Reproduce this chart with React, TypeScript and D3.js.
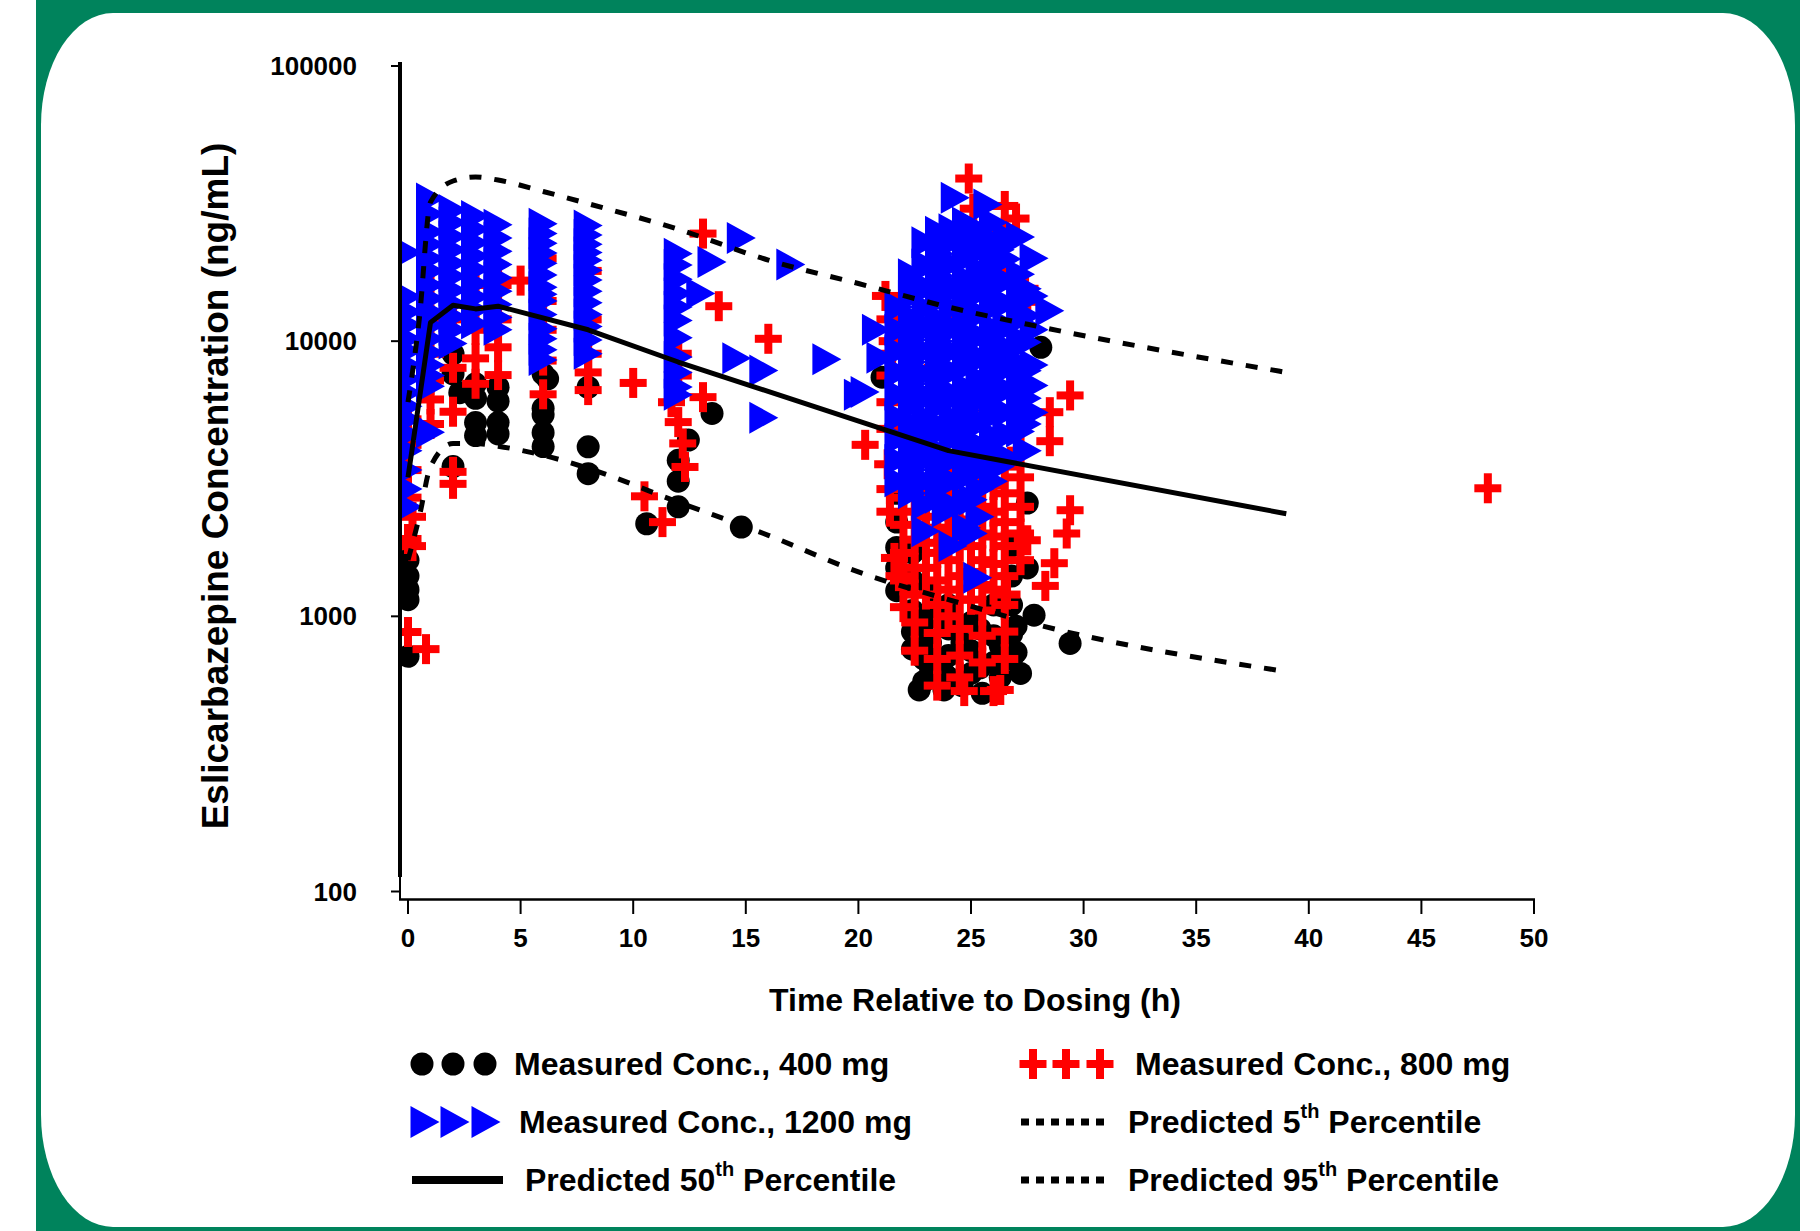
import React from "react";
import * as d3 from "d3";

// axis ticks
const xTicks = [0, 5, 10, 15, 20, 25, 30, 35, 40, 45, 50];
const yTicks = [100, 1000, 10000, 100000];

// measured concentrations, grouped by sampling time: [time (h), [conc ng/mL ...]]
const conc400: [number, number[]][] = [
  [0, [1600, 1400, 1250, 1150, 716]],
  [2, [9000, 7600, 3500]],
  [2.3, [6500]],
  [3, [7000, 6200, 5060, 4540]],
  [4, [6800, 6050, 5060, 4600]],
  [6, [7600, 5700, 5400, 4650, 4140]],
  [6.2, [7300]],
  [8, [6800, 4130, 3300]],
  [10.6, [2170]],
  [12, [3690, 3100, 2500]],
  [12.45, [4370]],
  [13.5, [5460]],
  [14.8, [2110]],
  [21.05, [7400]],
  [21.7, [2800, 2200, 1780, 1500, 1240]],
  [22.4, [1700, 1350, 1050, 880, 760]],
  [22.7, [540]],
  [22.9, [950, 700, 580]],
  [23.2, [1250, 1000, 800, 650]],
  [23.8, [620, 540]],
  [24, [1100, 900, 720, 600]],
  [24.6, [800, 560]],
  [25, [950, 750, 620]],
  [25.4, [900, 650]],
  [25.5, [525]],
  [26, [1100, 850, 680]],
  [26.3, [780, 600]],
  [26.8, [1800, 1400, 1100, 860, 700]],
  [27, [920, 740]],
  [27.2, [620]],
  [27.5, [2580, 1500]],
  [27.8, [1010]],
  [28.1, [9500]],
  [29.4, [797]],
];

const conc800: [number, number[]][] = [
  [0, [5200, 4200, 3400, 2700, 1910, 877]],
  [0.2, [2300, 1800]],
  [0.8, [760]],
  [1, [16000, 12000, 9000, 7200, 6140, 5000]],
  [2, [12000, 8000, 5540, 3350, 3030]],
  [3, [16000, 11000, 8660, 7000]],
  [4, [16000, 12000, 9500, 7530]],
  [5, [16600]],
  [6, [20000, 14000, 11000, 8500, 6410]],
  [8, [18000, 12000, 9000, 7700, 6640]],
  [10, [7050]],
  [10.5, [2730]],
  [11.3, [2200]],
  [11.7, [6000]],
  [12, [9000, 7500, 5080]],
  [12.2, [4250]],
  [12.3, [3490]],
  [13.1, [24600, 6260]],
  [13.8, [13400]],
  [16, [10200]],
  [20.3, [4200]],
  [21.2, [14600]],
  [21.3, [3570]],
  [21.4, [12000, 7500, 6000, 4800, 2900, 2400]],
  [21.5, [10000, 9000]],
  [21.6, [1630]],
  [21.8, [1400]],
  [22, [2700, 2150, 1700, 1350, 1080]],
  [22.5, [3000, 2400, 1900, 1500, 1200, 950, 750]],
  [23, [2900, 2300, 1850, 1500, 1200]],
  [23.5, [8000, 2600, 2100, 1700, 1350, 1100, 870, 700, 560]],
  [24, [3100, 2500, 2000, 1600, 1250, 1000]],
  [24.5, [12000, 2800, 2200, 1800, 1400, 1150, 900, 720, 600]],
  [24.7, [535]],
  [24.9, [39000]],
  [25, [2800, 2250, 1800, 1450, 1150]],
  [25.1, [30300]],
  [25.5, [6000, 3200, 2500, 2000, 1600, 1300, 1050, 850, 680]],
  [26, [3000, 2400, 1950, 1550, 1250, 535]],
  [26.2, [20000]],
  [26.3, [18000, 540]],
  [26.5, [31000, 25000, 3500, 2800, 2200, 1800, 1400, 1100, 880, 700]],
  [26.6, [1200]],
  [26.8, [16500]],
  [27, [27900]],
  [27.2, [4000, 3200, 2500, 2000, 1600]],
  [27.4, [15500]],
  [27.5, [13900, 1890]],
  [28.3, [1290]],
  [28.5, [4330, 5520]],
  [28.7, [1560]],
  [29.25, [2000]],
  [29.4, [6350, 2430]],
  [47.95, [2920]],
];

const conc1200: [number, number[]][] = [
  [0, [21000, 14500, 12800, 11500, 10200, 9200, 8200, 7300, 6500, 5800, 5200, 4600, 4000, 3400, 2900, 2500]],
  [1, [33000, 29000, 25000, 22500, 20000, 18000, 16000, 14300, 12800, 11400, 10200, 9100, 8200, 7500, 6860, 4670]],
  [2, [30000, 27000, 24000, 21500, 19200, 17200, 15300, 13700, 12300, 11000, 9800]],
  [3, [28500, 25500, 22800, 20400, 18200, 16200, 14500, 13000, 11600]],
  [4, [26500, 23700, 21200, 19000, 17000, 15200, 13600, 12200, 11000]],
  [6, [26700, 24600, 22700, 20900, 19200, 17400, 15700, 14800, 14000, 12500, 11100, 10200, 9300, 8550]],
  [8, [26300, 24300, 22500, 21000, 19700, 18100, 16700, 15200, 13800, 12500, 11300, 10100, 9000]],
  [12, [20800, 18900, 16800, 14900, 13300, 11900, 10300, 8750, 7700, 6810, 6390]],
  [13, [14900]],
  [13.5, [19400]],
  [14.6, [8670]],
  [14.8, [23700]],
  [15.8, [7820, 5270]],
  [17, [19000]],
  [18.6, [8600]],
  [20, [6380]],
  [20.3, [6540]],
  [20.8, [11000]],
  [21, [8700]],
  [21.8, [13300, 11000, 9200, 7700, 6400, 5300, 4400, 3700, 3100]],
  [22.4, [17500, 14600, 12200, 10100, 8400, 7000, 5800, 4900, 4100, 3400, 2800]],
  [22.7, [15000, 11800, 9500, 7600, 6100, 4900, 3900, 3200]],
  [23, [22900, 19000, 15800, 13200, 11000, 9200, 7600, 6400, 5300, 4400, 3700, 3100, 2550, 2040]],
  [23.6, [25000, 20800, 17300, 14400, 12000, 10000, 8300, 6900, 5800, 4800, 4000, 3300, 2700]],
  [23.9, [23500, 18500, 14800, 11700, 9400, 7500, 6000, 4800, 3850, 3050, 2400]],
  [24.2, [25500, 22900, 19100, 15900, 13200, 11000, 9200, 7700, 6400, 5300, 4400, 3700, 3100, 2500, 1800]],
  [24.3, [33200]],
  [24.8, [27000, 24200, 20200, 16800, 14000, 11700, 9700, 8100, 6700, 5600, 4700, 3900, 3200, 2600, 2100]],
  [25.1, [26000, 20500, 16400, 13000, 10400, 8300, 6600, 5300, 4200, 3350, 2650, 2000]],
  [25.3, [1380]],
  [25.4, [24000, 21800, 18200, 15100, 12600, 10500, 8800, 7300, 6100, 5100, 4200, 3500, 2900, 2300]],
  [25.75, [31400]],
  [26, [27000, 23300, 19400, 16200, 13500, 11200, 9400, 7800, 6500, 5400, 4500, 3750, 3100]],
  [26.3, [21500, 17000, 13600, 10800, 8600, 6900, 5500, 4400, 3500]],
  [26.6, [24000, 19900, 16500, 13700, 11400, 9500, 7900, 6600, 5500, 4600, 3800]],
  [27.2, [23900, 17500, 14500, 12000, 10000, 8300, 6900, 5700, 4700]],
  [27.5, [15500, 12400, 9900, 7800, 6200, 5000, 4000]],
  [27.8, [20000, 14600, 11000, 8200, 6900, 5500]],
  [28.5, [12900]],
];

// model predictions: [time (h), conc]
const pred50: [number, number][] = [
  [0, 3200], [1, 11700], [2, 13500], [3, 13100], [4, 13400], [8, 11000],
  [12, 8400], [24, 4000], [39, 2360],
];
const pred5: [number, number][] = [
  [0, 1600], [0.5, 2300], [1, 3500], [2, 4250], [3, 4250], [4, 4150], [6, 3850],
  [8, 3450], [12, 2600], [16, 1970], [20, 1450], [24, 1150], [28, 930], [39, 630],
];
const pred95: [number, number][] = [
  [0, 6000], [0.5, 12000], [1, 32000], [2, 38200], [3, 39500], [4, 38500], [6, 35000],
  [8, 31600], [12, 25500], [16, 19700], [20, 16200], [24, 13300], [28, 11300], [39, 7700],
];

const legendLeft = ["Measured Conc., 400 mg", "Measured Conc., 1200 mg"];
const legendRight = ["Measured Conc., 800 mg"];

const flatten = (cols: [number, number[]][]) =>
  cols.flatMap(([t, cs]) => cs.map((c) => [t, c] as [number, number]));

const FONT = "'Liberation Sans', Arial, Helvetica, sans-serif";
const GREEN = "#00835c";
const LEG = 32;

const Plus = ({ cx, cy }: { cx: number; cy: number }) => (
  <g fill="#ff0000">
    <rect x={cx - 13.5} y={cy - 4} width={27} height={8} />
    <rect x={cx - 4} y={cy - 15} width={8} height={30} />
  </g>
);

const Tri = ({ cx, cy }: { cx: number; cy: number }) => (
  <path d={`M${cx - 14.5},${cy - 16}L${cx + 14.5},${cy}L${cx - 14.5},${cy + 16}Z`} fill="#0000ff" />
);

const Pct = ({ x, y, n }: { x: number; y: number; n: string }) => (
  <text x={x} y={y} fontSize={LEG} fontWeight="bold" fontFamily={FONT} dominantBaseline="central">
    {`Predicted ${n}`}
    <tspan fontSize={20} dy={-11}>th</tspan>
    <tspan dy={11}> Percentile</tspan>
  </text>
);

export default function App() {
  const x = d3.scaleLinear().domain([0, 50]).range([408, 1534]);
  const y = d3.scaleLog().domain([100, 100000]).range([891.5, 66]);
  const straight = d3.line<[number, number]>().x((d) => x(d[0])).y((d) => y(d[1]));
  const smooth = d3
    .line<[number, number]>()
    .x((d) => x(d[0]))
    .y((d) => y(d[1]))
    .curve(d3.curveMonotoneX);

  const p400 = flatten(conc400);
  const p800 = flatten(conc800);
  const p1200 = flatten(conc1200);

  return (
    <svg width={1820} height={1231} style={{ position: "absolute", left: 0, top: 0 }} fontFamily={FONT}>
      <rect x={36} y={0} width={1764} height={1231} fill={GREEN} />
      <rect x={41} y={13} width={1754} height={1214} rx={72} ry={112} fill="#fff" />

      <defs>
        <clipPath id="plot">
          <rect x={402} y={0} width={1400} height={898} />
        </clipPath>
      </defs>

      <g clipPath="url(#plot)">
        {p400.map(([t, c], i) => (
          <circle key={"b" + i} cx={x(t)} cy={y(c)} r={11.5} fill="#000" />
        ))}
        {p800.map(([t, c], i) => (
          <Plus key={"r" + i} cx={x(t)} cy={y(c)} />
        ))}
        {p1200.map(([t, c], i) => (
          <Tri key={"u" + i} cx={x(t)} cy={y(c)} />
        ))}
        <path d={smooth(pred95) || ""} fill="none" stroke="#000" strokeWidth={5} strokeDasharray="12 13" />
        <path d={smooth(pred5) || ""} fill="none" stroke="#000" strokeWidth={5} strokeDasharray="12 13" />
        <path d={straight(pred50) || ""} fill="none" stroke="#000" strokeWidth={5} strokeLinejoin="round" />
      </g>

      {/* axes */}
      <line x1={400} x2={400} y1={62} y2={877} stroke="#000" strokeWidth={4} />
      <line x1={400} x2={400} y1={875} y2={900} stroke="#000" strokeWidth={2} />
      <line x1={399} x2={1535} y1={899.5} y2={899.5} stroke="#000" strokeWidth={2.5} />
      {yTicks.map((v) => (
        <g key={v}>
          <line x1={391} x2={400} y1={y(v)} y2={y(v)} stroke="#000" strokeWidth={2} />
          <text x={357} y={y(v)} textAnchor="end" dominantBaseline="central" fontSize={26} fontWeight="bold">
            {v}
          </text>
        </g>
      ))}
      {xTicks.map((v) => (
        <g key={v}>
          <line x1={x(v)} x2={x(v)} y1={900} y2={914} stroke="#000" strokeWidth={2} />
          <text x={x(v)} y={938} textAnchor="middle" dominantBaseline="central" fontSize={26} fontWeight="bold">
            {v}
          </text>
        </g>
      ))}
      <text x={975} y={1000} textAnchor="middle" dominantBaseline="central" fontSize={32} fontWeight="bold">
        Time Relative to Dosing (h)
      </text>
      <text
        transform="translate(215,486) rotate(-90)"
        textAnchor="middle"
        dominantBaseline="central"
        fontSize={37}
        fontWeight="bold"
      >
        Eslicarbazepine Concentration (ng/mL)
      </text>

      {/* legend */}
      {[422, 453, 485].map((cx) => (
        <circle key={cx} cx={cx} cy={1064} r={11.5} fill="#000" />
      ))}
      <text x={514} y={1064} fontSize={LEG} fontWeight="bold" dominantBaseline="central">{legendLeft[0]}</text>
      {[1033, 1066, 1100].map((cx) => (
        <Plus key={cx} cx={cx} cy={1064} />
      ))}
      <text x={1135} y={1064} fontSize={LEG} fontWeight="bold" dominantBaseline="central">{legendRight[0]}</text>
      {[425, 455, 486].map((cx) => (
        <Tri key={cx} cx={cx} cy={1122} />
      ))}
      <text x={519} y={1122} fontSize={LEG} fontWeight="bold" dominantBaseline="central">{legendLeft[1]}</text>
      <line x1={1021} x2={1110} y1={1122} y2={1122} stroke="#000" strokeWidth={7} strokeDasharray="8 7" />
      <Pct x={1128} y={1122} n="5" />
      <line x1={412} x2={503} y1={1180} y2={1180} stroke="#000" strokeWidth={8} />
      <Pct x={525} y={1180} n="50" />
      <line x1={1021} x2={1110} y1={1180} y2={1180} stroke="#000" strokeWidth={7} strokeDasharray="8 7" />
      <Pct x={1128} y={1180} n="95" />
    </svg>
  );
}
